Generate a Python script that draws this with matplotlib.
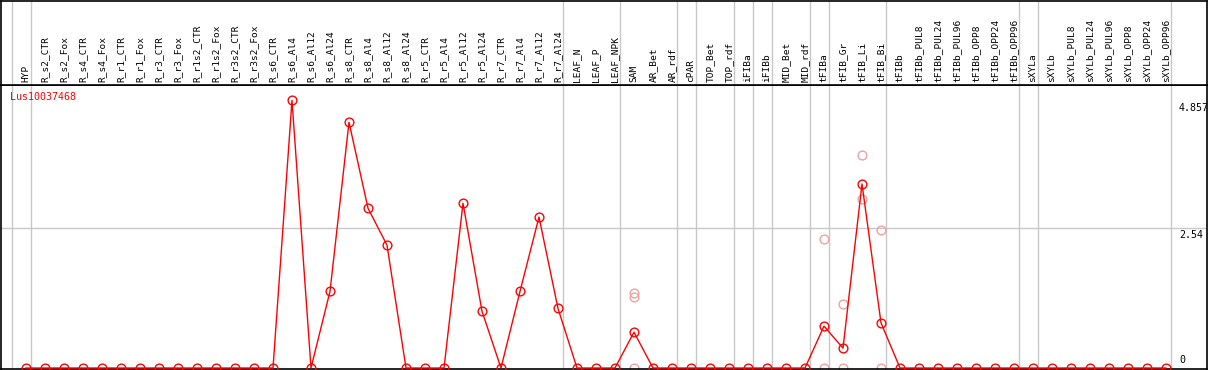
import matplotlib
matplotlib.use("Agg")
import matplotlib.pyplot as plt
import matplotlib.transforms as mtransforms

categories = ["HYP",
    "R_s2_CTR", "R_s2_Fox", "R_s4_CTR", "R_s4_Fox", "R_r1_CTR", "R_r1_Fox", "R_r3_CTR", "R_r3_Fox",
    "R_r1s2_CTR", "R_r1s2_Fox", "R_r3s2_CTR", "R_r3s2_Fox",
    "R_s6_CTR", "R_s6_Al4", "R_s6_Al12", "R_s6_Al24", "R_s8_CTR", "R_s8_Al4", "R_s8_Al12", "R_s8_Al24",
    "R_r5_CTR", "R_r5_Al4", "R_r5_Al12", "R_r5_Al24", "R_r7_CTR", "R_r7_Al4", "R_r7_Al12", "R_r7_Al24",
    "LEAF_N", "LEAF_P", "LEAF_NPK",
    "SAM", "AR_Bet", "AR_rdf", "cPAR", "TOP_Bet", "TOP_rdf", "iFIBa", "iFIBb", "MID_Bet", "MID_rdf",
    "tFIBa", "tFIB_Gr", "tFIB_Li", "tFIB_Bi", "tFIBb",
    "tFIBb_PUL8", "tFIBb_PUL24", "tFIBb_PUL96", "tFIBb_OPP8", "tFIBb_OPP24", "tFIBb_OPP96",
    "sXYLa", "sXYLb",
    "sXYLb_PUL8", "sXYLb_PUL24", "sXYLb_PUL96", "sXYLb_OPP8", "sXYLb_OPP24", "sXYLb_OPP96"]

values = ([0] * 14 +
          [4.857, 0, 1.39, 4.46, 2.90, 2.23, 0, 0, 0, 2.99, 1.03, 0, 1.39, 2.74, 1.08] +
          [0, 0, 0] +
          [0.65, 0, 0, 0, 0, 0, 0, 0, 0, 0, 0.76, 0.36, 3.34, 0.82, 0] +
          [0] * 6 + [0, 0] + [0] * 6)

rep_cats = ["SAM", "SAM", "SAM", "tFIBa", "tFIBa", "tFIB_Gr", "tFIB_Gr",
            "tFIB_Li", "tFIB_Li", "tFIB_Bi", "tFIB_Bi"]
rep_vals = [1.36, 1.28, 0, 2.34, 0, 1.16, 0, 3.86, 3.07, 2.50, 0]

group_starts = ["HYP", "R_s2_CTR", "LEAF_N", "SAM", "cPAR", "TOP_Bet", "iFIBa", "iFIBb",
                "MID_Bet", "tFIBa", "tFIB_Gr", "tFIBb", "sXYLa", "sXYLb"]

y_ticks = [0, 2.54, 4.857]
gene = "Lus10037468"

W, H = 1209, 370
fig = plt.figure(figsize=(W / 100, H / 100), dpi=100)

# pixel geometry
x0_px, step_px = 26, 19
left_px, right_px = 1, 1207
head_px = 85
zero_px, scale = 368, 55.1

xlim = ((left_px - x0_px) / step_px, (right_px - x0_px) / step_px)
ax = fig.add_axes([left_px / W, 1 / H, (right_px - left_px) / W, (H - head_px - 1) / H])
axh = fig.add_axes([left_px / W, (H - head_px) / H, (right_px - left_px) / W, head_px / H - 1 / H])

ax.set_xlim(*xlim)
ax.set_ylim((zero_px - (H - 1)) / scale, (zero_px - head_px) / scale)
axh.set_xlim(*xlim)
axh.set_ylim(0, 1)

for a in (ax, axh):
    a.set_xticks([])
    a.set_yticks([])
    for s in a.spines.values():
        s.set_color("black")
        s.set_linewidth(1.2)

idx = {c: i for i, c in enumerate(categories)}
n = len(categories)
lines_at = [idx[g] - 0.75 for g in group_starts] + [n - 0.75]
for a in (ax, axh):
    for xv in lines_at:
        a.axvline(xv, color="#c8c8c8", lw=1.0, zorder=0)
ax.axhline(y_ticks[1], color="#c8c8c8", lw=1.0, zorder=0)

# replicates
ax.plot([idx[c] for c in rep_cats], rep_vals, linestyle="none", marker="o",
        markersize=6.3, markerfacecolor="none", markeredgecolor="#f0a0a0",
        markeredgewidth=1.0, zorder=2, clip_on=False)
# main series
ax.plot(range(n), values, color="red", lw=1.0, marker="o", markersize=6.3,
        markerfacecolor="none", markeredgecolor="red", markeredgewidth=1.0,
        zorder=3, clip_on=False)

# header labels
for i, c in enumerate(categories):
    axh.text(i, 3 / head_px, c, rotation=90, ha="center", va="bottom",
             family="DejaVu Sans Mono", fontsize=6.8, color="black")

# gene label
fig.text(10 / W, 1 - 97 / H, gene, color="red", ha="left", va="center",
         family="DejaVu Sans Mono", fontsize=7.2)

# y tick labels on right inside
trans = mtransforms.blended_transform_factory(fig.transFigure, ax.transData)
for t in y_ticks:
    lab = ("%g" % t)
    va = "bottom" if t == 0 else "top"
    off = 0.05 if t == 0 else -0.04
    ax.text(1179 / W, t + off, lab, transform=trans, ha="left", va=va,
            family="DejaVu Sans Mono", fontsize=7.2, color="black")

fig.savefig("out.png", dpi=100)
